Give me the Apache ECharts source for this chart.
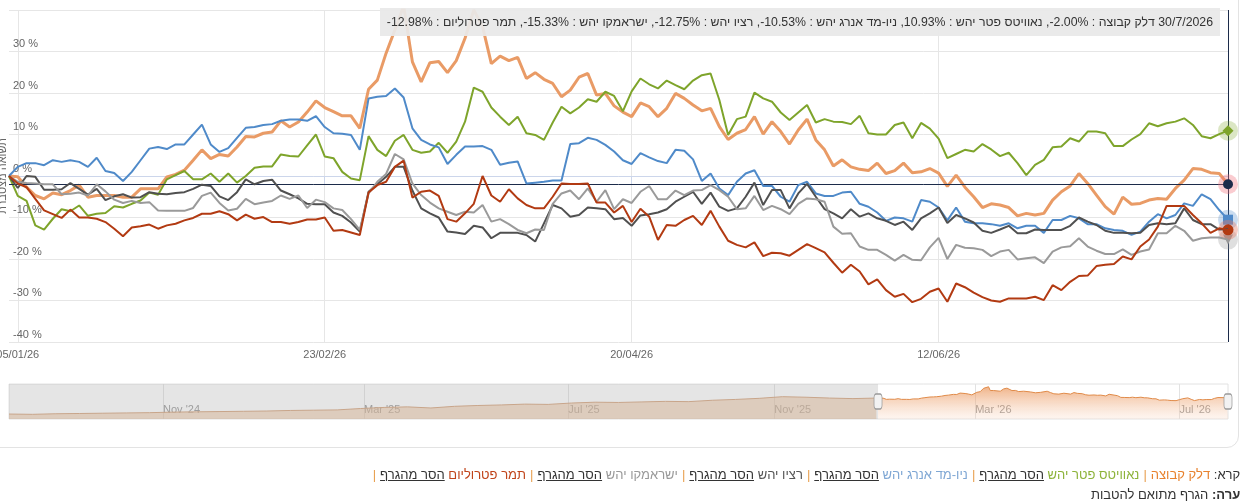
<!DOCTYPE html>
<html>
<head>
<meta charset="utf-8">
<script src="https://cdn.jsdelivr.net/npm/echarts@6/dist/echarts.min.js"></script>
<style>
  html, body { margin:0; padding:0; background:#fff; width:1240px; height:504px; overflow:hidden; font-family:'Liberation Sans','DejaVu Sans',Arial,sans-serif; }
  #chart { position:absolute; left:0; top:0; width:1240px; height:504px; }
  #card { position:absolute; left:-20px; top:-20px; width:1257px; height:466px; border:1px solid #e3e3e3; border-radius:12px; pointer-events:none; }
  #tip { position:absolute; top:8px; right:20px; height:28px; line-height:28px; padding:0 7px; background:rgba(232,232,232,0.93); color:#333; font-size:12.3px; white-space:nowrap; direction:rtl; }
  #tip .num { direction:ltr; unicode-bidi:isolate; }
  #legend { position:absolute; top:465px; right:-9px; direction:rtl; font-size:13px; line-height:20px; color:#333; white-space:nowrap; text-align:right; }
  #legend u { color:#333; }
  #legend .sep { color:#e8a050; margin:0 4px; }
</style>
</head>
<body>
<div id="card"></div>
<div id="chart"></div>
<div id="tip"></div>
<div id="legend"></div>
<script>
// ---- data ----
const seriesNames = ['דלק קבוצה','נאוויטס פטר יהש','ניו-מד אנרג יהש','רציו יהש','ישראמקו יהש','תמר פטרוליום'];
const seriesColors = ['#e99b66','#7ea42b','#4f8ac9','#505050','#9a9a9a','#b23a12'];
const legendColors = ['#e8822e','#8db33a','#7fa7d4','#555555','#999999','#c0441a'];

const delek = [0,-0.2,-2.7,-4.7,-5.5,-4.1,-4.5,-3.5,-2.2,-5.1,-4.7,-4.7,-4.7,-5.1,-5.1,-3.1,-3.1,-3.1,-0.2,0.4,
1.4,3.8,6.3,4.2,5.2,4.8,7.0,9.5,9.4,10.3,10.6,13.3,11.8,13.0,15.4,18.1,16.5,15.5,14.5,14.5,
11.5,20.9,23.1,29.6,35.2,41,27.5,22.7,27.3,27.6,24.9,27.8,33.2,40,36,27.1,28.9,27.8,28.6,23.5,
24.9,23.3,22.3,19.1,20.7,23.8,24.7,19.5,19.9,16.9,15.4,14.3,17.6,16.7,14.3,16.3,19.9,18.7,17.1,15.7,
16.3,11.9,8.8,10.3,11.2,14.3,10.1,13.1,10.7,7.7,11.1,13.7,8.7,6.3,2.4,3.9,2.2,1.6,1.3,3.1,
0.6,1.3,3.1,0.8,1.0,1.8,0.7,-2.5,0.2,-2.7,-5.0,-7.6,-6.7,-7.0,-7.6,-9.6,-9.0,-9.4,-9.0,-5.8,
-3.8,-2.4,0.6,-1.8,-4.6,-7.4,-9.2,-5.1,-6.8,-6.6,-5.8,-5.4,-5.6,-3.0,-1.0,1.8,1.6,0.8,0.6,-2.0];

const navitas = [0,-4.8,-6.0,-11.9,-12.9,-10.3,-8.0,-8.5,-7.1,-9.6,-9.1,-8.9,-7.3,-7.6,-6.7,-5.9,-4.0,-4.5,-0.8,0.2,
1.2,-0.8,-0.8,0.6,-1.4,0.6,-1.6,0.0,2.0,2.3,2.3,5.2,4.8,4.7,7.4,10.0,4.7,4.3,1.0,-0.6,
-1.0,9.6,6.3,4.8,8.5,9.9,6.3,5.6,5.9,8.0,5.6,8.3,13.1,21.3,20.3,16.5,14.3,12.3,14.3,10.3,
9.9,8.7,12.9,16.7,15.1,16.5,18.5,17.9,20.3,19.3,15.6,20.4,23.5,22.1,21.1,23.0,21.9,20.9,23.0,24.3,
24.7,18.3,9.9,13.7,14.3,20.1,18.7,17.9,15.3,13.5,15.3,17.1,12.9,13.7,13.1,13.0,12.5,14.5,10.3,10.0,
10.0,12.3,12.9,9.1,12.8,11.4,9.0,4.3,5.3,6.3,5.9,7.7,6.4,4.8,5.6,3.1,0.2,2.7,3.9,6.9,
7.1,9.1,8.3,10.7,10.7,10.3,7.2,7.2,8.8,10.1,12.7,12.0,12.7,13.1,13.9,12.3,9.6,9.1,10.1,10.93];

const newmed = [0,2.2,3.1,3.1,2.6,3.8,3.4,3.8,3.4,2.2,4.4,1.2,0.7,-1.2,1.0,3.8,6.6,7.0,6.5,7.6,
7.6,10.0,12.4,7.6,5.8,6.7,9.2,11.6,11.8,12.3,12.5,13.3,13.6,13.6,13.3,14.4,11.8,10.3,10.2,9.9,
6.3,18.7,19.1,19.3,21.1,18.9,11.5,8.7,7.6,6.9,2.9,5.1,7.1,7.1,7.2,6.3,2.7,3.2,3.5,-1.8,
-1.6,-1.4,-1.1,-1.1,7.7,7.9,9.2,8.7,7.5,5.9,3.8,2.9,5.5,4.5,3.6,3.1,6.3,6.1,4.0,-1.2,
0.6,-3.0,-4.6,-1.4,0.6,1.4,-2.4,-2.4,-5.0,-6.2,-2.2,-1.4,-4.2,-4.8,-4.8,-4.0,-3.8,-6.7,-7.4,-8.8,
-10.8,-10.0,-10.2,-11.0,-5.8,-6.2,-7.6,-10.7,-7.6,-11.0,-11.4,-11.4,-11.6,-12.0,-11.4,-12.6,-12.0,-12.0,-13.7,-10.6,
-10.6,-9.6,-10.2,-11.6,-11.6,-12.6,-13.0,-13.2,-14.2,-13.4,-11.0,-9.2,-10.2,-9.4,-6.6,-7.2,-4.4,-5.6,-8.2,-10.53];

const ratio = [0,-2.9,0,-0.2,-3.3,-3.3,-3.2,-1.7,-3.1,-4.5,-3.1,-5.8,-4.9,-4.4,-5.2,-5.1,-3.9,-4.3,-4.4,-4.1,
-3.9,-3.1,-2.1,-2.4,-4.9,-5.8,-3.9,-0.8,-2.0,-1.2,-0.9,-3.5,-4.4,-5.4,-6.7,-6.8,-6.8,-8.8,-9.6,-11.2,
-13.4,-3.8,-2.0,-0.2,2.2,2.2,-3.5,-7.8,-9.0,-10.0,-13.4,-13.6,-14.0,-12.0,-12.4,-15.0,-13.7,-13.7,-13.7,-14.2,
-15.8,-11.4,-7.0,-7.8,-9.8,-9.4,-7.6,-7.8,-8.0,-10.4,-10.1,-12.0,-9.5,-9.2,-8.8,-8.0,-6.2,-5.0,-3.8,-6.7,
-4.0,-7.4,-8.4,-7.8,-5.0,-1.6,-7.0,-3.4,-3.4,-7.8,-4.2,-1.9,-5.0,-8.0,-9.0,-10.2,-8.0,-9.8,-9.0,-10.2,
-10.8,-11.8,-11.0,-13.0,-10.2,-9.0,-7.6,-11.3,-9.4,-10.2,-11.2,-13.2,-13.7,-12.9,-12.0,-13.8,-13.8,-12.9,-13.0,-13.0,
-13.0,-12.0,-10.0,-11.0,-11.8,-13.2,-13.7,-13.7,-13.8,-13.7,-11.8,-11.4,-11.6,-11.4,-7.8,-10.6,-11.6,-11.6,-12.9,-12.75];

const isramco = [0,-1.4,-1.7,-1.8,-2.0,-2.0,-4.4,-4.3,-4.0,-4.7,-2.0,-3.7,-5.7,-6.5,-6.0,-6.5,-6.3,-8.3,-8.4,-8.4,
-8.4,-7.7,-4.8,-4.0,-6.5,-8.3,-7.9,-5.5,-6.8,-6.4,-6.0,-4.7,-5.5,-4.7,-7.7,-5.7,-6.3,-7.8,-8.2,-10.4,
-13.0,-4.2,-1.4,0.5,5.3,4.0,-1.8,-4.6,-6.4,-7.8,-8.6,-9.4,-8.6,-8.8,-7.0,-11.0,-10.4,-11.6,-13.0,-13.8,
-12.9,-13.0,-6.7,-4.2,-3.5,-5.6,-3.0,-6.2,-3.4,-8.0,-5.6,-6.5,-3.8,-2.4,-5.6,-5.6,-3.5,-4.6,-3.5,-3.4,
-2.2,-3.4,-5.0,-8.0,-7.8,-4.8,-8.2,-7.2,-8.0,-9.2,-6.7,-5.4,-5.6,-6.2,-12.2,-13.9,-13.8,-17.0,-17.8,-17.8,
-19.0,-20.4,-19.0,-20.2,-20.3,-17.2,-14.9,-20.0,-16.6,-17.3,-17.4,-17.8,-19.3,-18.2,-17.8,-20.1,-19.8,-19.6,-21.0,-18.2,
-17.2,-16.9,-15.0,-17.0,-18.0,-18.8,-18.8,-17.7,-19.0,-18.2,-17.7,-13.8,-13.8,-12.0,-13.2,-15.6,-15.0,-14.8,-14.8,-15.33];

const tamar = [0,-1.8,-2.7,-5.5,-8.3,-9.2,-10.1,-8.1,-10.0,-10.0,-10.3,-11.1,-12.7,-14.5,-12.4,-12.1,-11.7,-12.7,-11.9,-11.5,
-10.7,-10.1,-9.1,-9.1,-8.5,-9.2,-10.7,-9.3,-10.3,-9.9,-11.1,-11.1,-11.5,-11.1,-10.5,-10.5,-10.0,-13.2,-13.0,-13.6,
-14.2,-4.0,-2.2,-1.4,2.2,3.7,-5.2,-3.8,-3.5,-4.8,-10.4,-11.0,-9.0,-6.7,0.0,-4.7,-6.2,-3.2,-5.4,-7.0,
-7.8,-7.8,-5.0,-1.8,-1.9,-1.9,-1.8,-6.4,-6.4,-8.8,-7.2,-11.1,-7.9,-9.8,-15.4,-11.8,-12.0,-10.6,-9.6,-11.8,
-8.4,-12.2,-15.6,-16.6,-17.2,-16.0,-19.3,-18.5,-18.6,-19.2,-17.8,-16.4,-17.4,-18.4,-20.9,-23.3,-21.4,-23.0,-26.1,-24.9,
-27.5,-29.1,-28.4,-30.4,-29.6,-27.9,-27.1,-30.3,-25.9,-26.8,-28.1,-29.2,-30.0,-30.3,-29.5,-29.5,-29.5,-29.1,-29.9,-26.3,
-27.5,-25.5,-24.1,-24.0,-21.7,-21.4,-21.2,-19.4,-20.1,-17.0,-15.3,-12.2,-7.2,-7.2,-7.2,-9.4,-11.4,-13.7,-12.6,-12.98];

// trading calendar (Mon-Fri, TASE holidays closed)
const firstTradingDay = '2026-01-02';
const holidays = ['2026-03-03','2026-04-01','2026-04-02','2026-04-07','2026-04-08','2026-04-21','2026-04-22','2026-05-21','2026-05-22','2026-07-23'];
const xTickLabels = ['05/01/26','23/02/26','20/04/26','12/06/26'];

// navigator history (Delek level, index = 100 at start of 2026)
const navHistDates = ['2024-08-01','2024-08-15','2024-08-29','2024-09-12','2024-09-26','2024-10-10','2024-10-24','2024-11-07','2024-11-21','2024-12-05',
'2024-12-19','2025-01-02','2025-01-16','2025-01-30','2025-02-13','2025-02-27','2025-03-13','2025-03-27','2025-04-10','2025-04-24',
'2025-05-08','2025-05-22','2025-06-05','2025-06-19','2025-07-03','2025-07-17','2025-07-31','2025-08-14','2025-08-28','2025-09-11',
'2025-09-25','2025-10-09','2025-10-23','2025-11-06','2025-11-20','2025-12-04','2025-12-18','2026-01-01'];
const navHistValues = [42,41,43,44,45,46,47,49,50,51,52,53,55,56,57,62,66,68,64,70,73,75,78,77,82,85,84,86,88,87,92,95,99,105,103,100,98,100];
const navTicks = ['2024-11-01','2025-03-01','2025-07-01','2025-11-01','2026-03-01','2026-07-01'];
const navRange = ['2024-08-01','2026-07-30'];

// ---- build calendar ----
const ts = s => Date.parse(s + 'T00:00:00Z');
const isoDates = [], dates = [];
(function(){
  let t = ts(firstTradingDay);
  while (isoDates.length < delek.length) {
    const d = new Date(t), wd = d.getUTCDay(), s = d.toISOString().slice(0,10);
    if (wd !== 0 && wd !== 6 && holidays.indexOf(s) < 0) {
      isoDates.push(s);
      dates.push(s.slice(8,10) + '/' + s.slice(5,7) + '/' + s.slice(2,4));
    }
    t += 86400000;
  }
})();
const last = delek.length - 1;
const allSeries = [delek, navitas, newmed, ratio, isramco, tamar];

const endMarkers = [
  {symbol:'circle', size:10, color:'#1c2b4a', halo:'rgba(240,110,120,0.35)'},
  {symbol:'diamond', size:11, color:'#7ea42b', halo:'rgba(126,164,43,0.28)'},
  {symbol:'rect', size:10, color:'#4f8ac9', halo:'rgba(79,138,201,0.3)'},
  null,
  {symbol:'triangle', size:10, color:'#9a9a9a', halo:'rgba(150,150,150,0.3)', rotate:180},
  {symbol:'circle', size:11, color:'#b23a12', halo:'rgba(230,120,100,0.38)'}
];

const isTick = (i) => xTickLabels.indexOf(dates[i]) >= 0;

const lineSeries = allSeries.map((arr, si) => {
  const m = endMarkers[si];
  const s = {
    name: seriesNames[si], type:'line', data: arr, symbol:'none', smooth:false,
    xAxisIndex:0, yAxisIndex:0,
    lineStyle:{ color: seriesColors[si], width: si === 0 ? 3 : 2 },
    itemStyle:{ color: seriesColors[si] },
    z: 3 + si, emphasis:{ disabled:true }
  };
  if (m) {
    s.markPoint = { silent:true, label:{show:false}, animation:false, data:[
      { coord:[last, arr[last]], symbol:'circle', symbolSize:20, itemStyle:{color:m.halo} },
      { coord:[last, arr[last]], symbol:m.symbol, symbolSize:m.size, symbolRotate:m.rotate || 0, itemStyle:{color:m.color} }
    ]};
  }
  return s;
});
lineSeries[0].markLine = {
  silent:true, symbol:['none','none'], label:{show:false}, animation:false,
  lineStyle:{ color:'#1c2b4a', width:1, type:'solid' },
  data:[ { yAxis: delek[last] }, { xAxis: last } ]
};

const navHist = navHistDates.map((d, i) => [ts(d), navHistValues[i]]);
const navNow = isoDates.map((d, i) => [ts(d), 100 * (1 + delek[i] / 100)]);
const navMid = 87.5;
const monthNames = ['Jan','Feb','Mar','Apr','May','Jun','Jul','Aug','Sep','Oct','Nov','Dec'];

const chart = echarts.init(document.getElementById('chart'), null, {renderer:'canvas'});
chart.setOption({
  animation:false,
  textStyle:{ fontFamily:"'Liberation Sans','DejaVu Sans',Arial,sans-serif" },
  grid:[
    { left:9, right:12, top:10, height:332, containLabel:false, outerBoundsMode:'none' },
    { left:9, right:12, top:384, height:35, show:true, borderColor:'#e2e2e2', borderWidth:1, containLabel:false, outerBoundsMode:'none' }
  ],
  xAxis:[
    { type:'category', gridIndex:0, data:dates, boundaryGap:false,
      axisLine:{ lineStyle:{ color:'#ccd6eb' } },
      axisTick:{ interval:isTick, length:8, lineStyle:{ color:'#ccd6eb' } },
      axisLabel:{ interval:isTick, color:'#666', fontSize:11, margin:7 },
      splitLine:{ show:true, interval:isTick, lineStyle:{ color:'#e6e6e6' } } },
    { type:'value', gridIndex:1, min:ts(navRange[0]), max:ts(navRange[1]), scale:true,
      axisLine:{ show:false },
      axisTick:{ show:false, customValues: navTicks.map(ts) },
      splitLine:{ show:true, lineStyle:{ color:'#e2e2e2' } },
      axisLabel:{ inside:true, customValues: navTicks.map(ts), color:'#999', fontSize:11, align:'left', margin:4,
        formatter: v => { const d = new Date(v); return monthNames[d.getUTCMonth()] + " '" + String(d.getUTCFullYear()).slice(2); } } }
  ],
  yAxis:[
    { type:'value', gridIndex:0, min:-40, max:40, interval:10,
      name:'תשואה מצטברת', nameLocation:'middle', nameRotate:90, nameGap:1, nameMoveOverlap:false,
      nameTextStyle:{ color:'#666', fontSize:11 },
      axisLine:{ show:false }, axisTick:{ show:false },
      axisLabel:{ inside:true, showMaxLabel:false, formatter:'{value} %', color:'#666', fontSize:11, verticalAlign:'bottom', margin:4, padding:[0,0,2,0] },
      splitLine:{ lineStyle:{ color:'#e6e6e6' } } },
    { type:'value', gridIndex:1, min:24, max:151, show:false, splitLine:{show:false} }
  ],
  series: lineSeries.concat([
    { type:'line', xAxisIndex:1, yAxisIndex:1, data:navHist, symbol:'none', silent:true,
      lineStyle:{ color:'#c8a58a', width:1 }, areaStyle:{ color:'rgba(214,180,152,0.75)' },
      markArea:{ silent:true, itemStyle:{ color:'rgba(170,170,170,0.3)' }, data:[[ { xAxis:ts(navHistDates[0]) }, { xAxis:ts(isoDates[0]) } ]] } },
    { type:'line', xAxisIndex:1, yAxisIndex:1, data:navNow, symbol:'none', silent:true,
      lineStyle:{ color:'#e08a48', width:1 },
      areaStyle:{ color: new echarts.graphic.LinearGradient(0,0,0,1,[{offset:0,color:'rgba(232,140,75,0.95)'},{offset:1,color:'rgba(245,200,170,0.25)'}]) },
      markPoint:{ silent:true, label:{show:false}, data:[
        { coord:[ts(isoDates[0]), navMid], symbol:'roundRect', symbolSize:[8,15], itemStyle:{ color:'#f2f2f2', borderColor:'#999', borderWidth:1 } },
        { coord:[ts(isoDates[last]), navMid], symbol:'roundRect', symbolSize:[8,15], itemStyle:{ color:'#f2f2f2', borderColor:'#999', borderWidth:1 } }
      ] } }
  ])
});

// tooltip-like readout (values taken from the last data point)
const esc = s => s.replace(/&/g,'&amp;').replace(/</g,'&lt;');
const dl = isoDates[last];
const tipDate = parseInt(dl.slice(8,10),10) + '/' + parseInt(dl.slice(5,7),10) + '/' + dl.slice(0,4);
document.getElementById('tip').innerHTML = tipDate + ' ' + seriesNames.map((n, i) =>
  esc(n) + ' : <span class="num">' + allSeries[i][last].toFixed(2) + '%</span>').join(', ');

// legend
let html = '<div>מקרא: <span style="color:' + legendColors[0] + '">' + seriesNames[0] + '</span><span class="sep">|</span>';
for (let i = 1; i < seriesNames.length; i++) {
  html += '<span style="color:' + legendColors[i] + '">' + seriesNames[i] + '</span> <u>הסר מהגרף</u><span class="sep">|</span>';
}
html += '</div><div><b>הערה:</b> הגרף מתואם להטבות</div>';
document.getElementById('legend').innerHTML = html;
</script>
</body>
</html>
